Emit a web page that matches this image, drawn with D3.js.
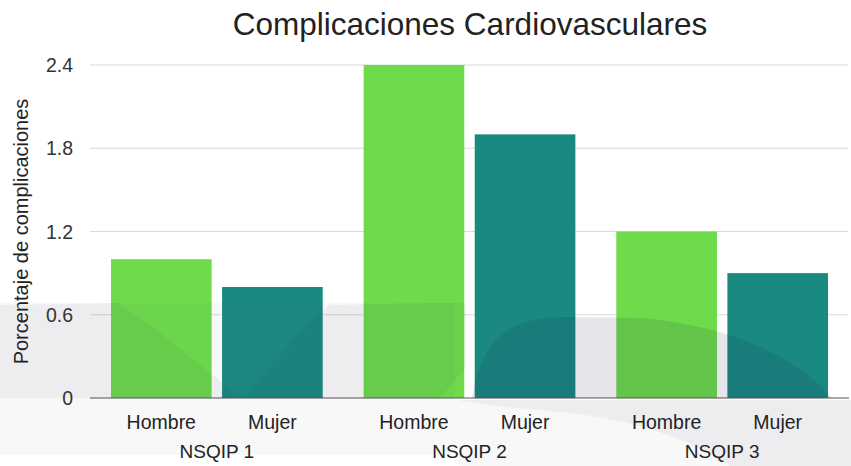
<!DOCTYPE html>
<html>
<head>
<meta charset="utf-8">
<script src="https://cdn.jsdelivr.net/npm/d3@7"></script>
<style>
  body { margin: 0; background: #fff; }
  svg { display: block; font-family: "Liberation Sans", Arial, sans-serif; }
</style>
</head>
<body>
<svg id="chart" width="851" height="466"></svg>
<script>
var groups = ["NSQIP 1", "NSQIP 2", "NSQIP 3"];
var sexes = ["Hombre", "Mujer"];
var hombre = [1.0, 2.4, 1.2];
var mujer = [0.8, 1.9, 0.9];
var yTicks = [0, 0.6, 1.2, 1.8, 2.4];

var plotLeft = 90, plotRight = 849, plotTop = 65, plotBottom = 398;
var colors = { "Hombre": "#6ddb4a", "Mujer": "#1a8a80" };

var svg = d3.select("#chart");

var x0 = d3.scaleBand().domain(groups).range([plotLeft, plotRight]).paddingInner(0.162).paddingOuter(0.083);
var x1 = d3.scaleBand().domain(sexes).range([0, x0.bandwidth()]).paddingInner(0.094);
var y = d3.scaleLinear().domain([0, 2.4]).range([plotBottom, plotTop]);

// gridlines
svg.append("g")
    .selectAll("line")
    .data(yTicks.filter(d => d > 0))
    .enter().append("line")
    .attr("x1", plotLeft).attr("x2", plotRight - 1)
    .attr("y1", d => y(d)).attr("y2", d => y(d))
    .attr("stroke", "#d9d9d9").attr("stroke-width", 1.2);

// y tick labels
svg.append("g")
    .selectAll("text")
    .data(yTicks)
    .enter().append("text")
    .attr("x", 73)
    .attr("y", d => y(d) + 7)
    .attr("text-anchor", "end")
    .attr("font-size", 19.5)
    .attr("fill", "#333")
    .text(d => d === 0 ? "0" : d3.format(".1f")(d));

// bars
var rows = groups.map((g, i) => ({ group: g, values: [
    { sex: "Hombre", value: hombre[i] },
    { sex: "Mujer", value: mujer[i] }
] }));

var gBars = svg.append("g")
    .selectAll("g")
    .data(rows)
    .enter().append("g")
    .attr("transform", d => "translate(" + x0(d.group) + ",0)");

gBars.selectAll("rect")
    .data(d => d.values)
    .enter().append("rect")
    .attr("x", d => x1(d.sex))
    .attr("y", d => y(d.value))
    .attr("width", x1.bandwidth())
    .attr("height", d => plotBottom - y(d.value))
    .attr("fill", d => colors[d.sex]);

gBars.selectAll("text")
    .data(d => d.values)
    .enter().append("text")
    .attr("x", d => x1(d.sex) + x1.bandwidth() / 2)
    .attr("y", 429)
    .attr("text-anchor", "middle")
    .attr("font-size", 19.5)
    .attr("fill", "#222")
    .text(d => d.sex);

svg.append("g")
    .selectAll("text")
    .data(groups)
    .enter().append("text")
    .attr("x", d => x0(d) + x0.bandwidth() / 2)
    .attr("y", 458)
    .attr("text-anchor", "middle")
    .attr("font-size", 19)
    .attr("fill", "#222")
    .text(d => d);

// baseline
svg.append("line")
    .attr("x1", plotLeft).attr("x2", plotRight)
    .attr("y1", plotBottom).attr("y2", plotBottom)
    .attr("stroke", "#555").attr("stroke-width", 1.2);

// faint background watermark drawn on top
var wm = svg.append("g").attr("pointer-events", "none");
wm.append("path")
    .attr("d", "M0,303 L455,303 L455,400 L851,400 L851,466 L460,466 L455,455 L0,455 Z")
    .attr("fill", "rgba(70,70,110,0.04)");
wm.append("path")
    .attr("d", "M0,305 L118,303 C160,330 205,370 242,398 L0,398 Z")
    .attr("fill", "rgba(40,40,80,0.05)");
wm.append("path")
    .attr("d", "M246,398 C270,365 300,330 330,305 L445,303 L466,303 L466,367 L440,398 Z")
    .attr("fill", "rgba(40,40,80,0.05)");
wm.append("path")
    .attr("d", "M472,398 C480,345 505,318 560,317 L640,318 C720,325 790,350 832,398 Z")
    .attr("fill", "rgba(20,20,70,0.11)");
wm.append("path")
    .attr("d", "M458,400 L851,400 L851,466 L730,466 C690,440 640,420 560,412 C520,408 480,405 458,400 Z")
    .attr("fill", "rgba(40,40,80,0.05)");

// title
svg.append("text")
    .attr("x", 470)
    .attr("y", 35)
    .attr("text-anchor", "middle")
    .attr("font-size", 31.5)
    .attr("fill", "#222")
    .text("Complicaciones Cardiovasculares");

// y axis label
svg.append("text")
    .attr("transform", "translate(28," + ((plotTop + plotBottom) / 2) + ") rotate(-90)")
    .attr("text-anchor", "middle")
    .attr("font-size", 20)
    .attr("fill", "#222")
    .text("Porcentaje de complicaciones");
</script>
</body>
</html>
